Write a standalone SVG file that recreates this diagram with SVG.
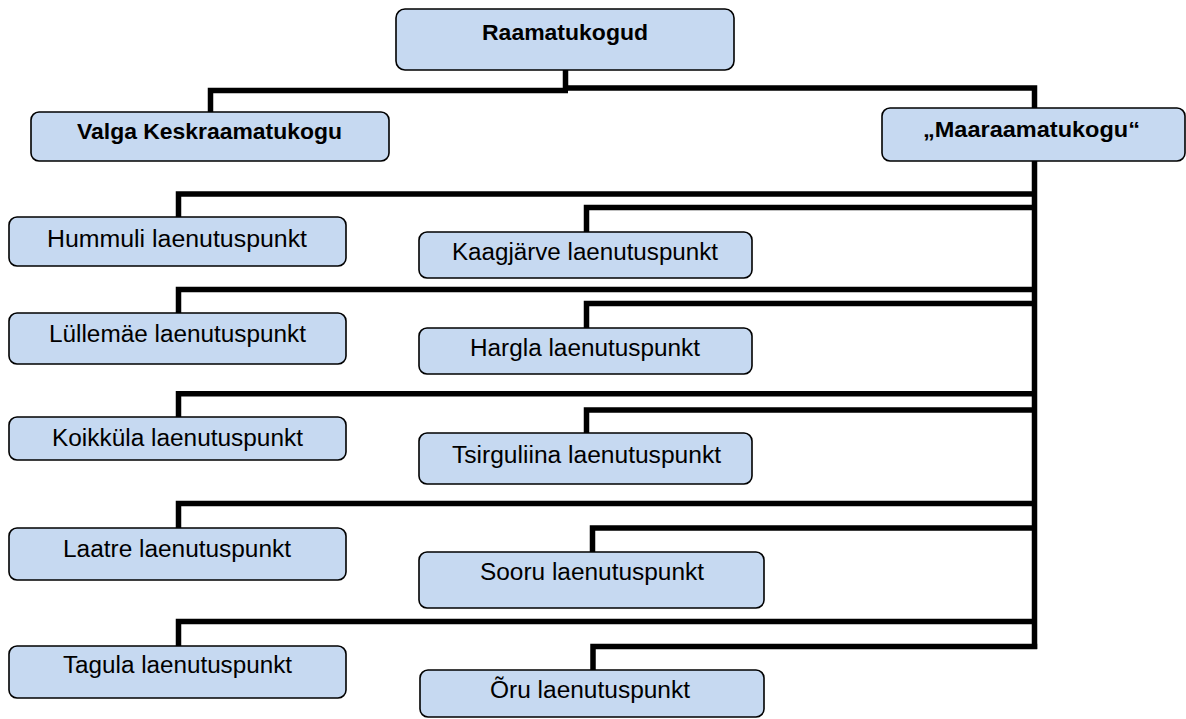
<svg xmlns="http://www.w3.org/2000/svg" width="1186" height="719" viewBox="0 0 1186 719">
  <style>
    .box { fill: #C6D9F1; stroke: #000; stroke-width: 1.6; }
    .t { font-family: "Liberation Sans", Arial, sans-serif; font-size: 23px; fill: #000; text-anchor: middle; }
    .b { font-family: "Liberation Sans", Arial, sans-serif; font-size: 22px; font-weight: bold; fill: #000; text-anchor: middle; }
    .c { fill: none; stroke: #000; stroke-width: 5.5; stroke-linecap: butt; stroke-linejoin: miter; }
  </style>
  <rect width="1186" height="719" fill="#fff"/>
  <g id="connectors">
    <path class="c" d="M565.5 70 V90.5 M210.5 112 V90.5 H568"/>
    <path class="c" d="M565.5 88 H1034.5 V649"/>
    <path class="c" d="M178.5 217 V194 H1034.5"/>
    <path class="c" d="M586.5 232 V207.5 H1034.5"/>
    <path class="c" d="M178.5 313 V289.5 H1034.5"/>
    <path class="c" d="M586.5 328 V303.5 H1034.5"/>
    <path class="c" d="M178.5 417 V393.8 H1034.5"/>
    <path class="c" d="M586.5 433 V410 H1034.5"/>
    <path class="c" d="M178.5 528 V503.5 H1034.5"/>
    <path class="c" d="M592.5 552 V528 H1034.5"/>
    <path class="c" d="M178.5 646 V621.5 H1034.5"/>
    <path class="c" d="M593 670 V646.5 H1037.2"/>
  </g>
  <g id="raamatukogud">
    <rect class="box" x="396" y="9" width="338" height="61" rx="9"/>
    <text class="b" x="565" y="40" textLength="166" lengthAdjust="spacingAndGlyphs">Raamatukogud</text>
  </g>
  <g id="valga">
    <rect class="box" x="31" y="112" width="358" height="49" rx="8"/>
    <text class="b" x="209.5" y="139" textLength="265" lengthAdjust="spacingAndGlyphs">Valga Keskraamatukogu</text>
  </g>
  <g id="maaraamatukogu">
    <rect class="box" x="882" y="108" width="303" height="53" rx="8"/>
    <text class="b" x="1031.5" y="137" textLength="217" lengthAdjust="spacingAndGlyphs">„Maaraamatukogu“</text>
  </g>
  <g id="hummuli">
    <rect class="box" x="9" y="217" width="337" height="49" rx="8"/>
    <text class="t" x="177" y="247" textLength="260" lengthAdjust="spacingAndGlyphs">Hummuli laenutuspunkt</text>
  </g>
  <g id="kaagjarve">
    <rect class="box" x="419" y="232" width="333" height="46" rx="8"/>
    <text class="t" x="585" y="260" textLength="266" lengthAdjust="spacingAndGlyphs">Kaagjärve laenutuspunkt</text>
  </g>
  <g id="lullemae">
    <rect class="box" x="9" y="313" width="337" height="51" rx="8"/>
    <text class="t" x="177.5" y="342" textLength="257" lengthAdjust="spacingAndGlyphs">Lüllemäe laenutuspunkt</text>
  </g>
  <g id="hargla">
    <rect class="box" x="419" y="328" width="333" height="46" rx="8"/>
    <text class="t" x="585" y="356" textLength="230" lengthAdjust="spacingAndGlyphs">Hargla laenutuspunkt</text>
  </g>
  <g id="koikkula">
    <rect class="box" x="9" y="417" width="337" height="43" rx="8"/>
    <text class="t" x="177.5" y="446" textLength="251" lengthAdjust="spacingAndGlyphs">Koikküla laenutuspunkt</text>
  </g>
  <g id="tsirguliina">
    <rect class="box" x="419" y="433" width="333" height="51" rx="8"/>
    <text class="t" x="586.5" y="463" textLength="269" lengthAdjust="spacingAndGlyphs">Tsirguliina laenutuspunkt</text>
  </g>
  <g id="laatre">
    <rect class="box" x="9" y="528" width="337" height="52" rx="8"/>
    <text class="t" x="177" y="557" textLength="228" lengthAdjust="spacingAndGlyphs">Laatre laenutuspunkt</text>
  </g>
  <g id="sooru">
    <rect class="box" x="419" y="552" width="345" height="56" rx="8"/>
    <text class="t" x="592" y="580" textLength="224" lengthAdjust="spacingAndGlyphs">Sooru laenutuspunkt</text>
  </g>
  <g id="tagula">
    <rect class="box" x="9" y="646" width="337" height="52" rx="8"/>
    <text class="t" x="177.5" y="673" textLength="229" lengthAdjust="spacingAndGlyphs">Tagula laenutuspunkt</text>
  </g>
  <g id="oru">
    <rect class="box" x="420" y="670" width="344" height="47" rx="8"/>
    <text class="t" x="590" y="698" textLength="200" lengthAdjust="spacingAndGlyphs">Õru laenutuspunkt</text>
  </g>
</svg>
